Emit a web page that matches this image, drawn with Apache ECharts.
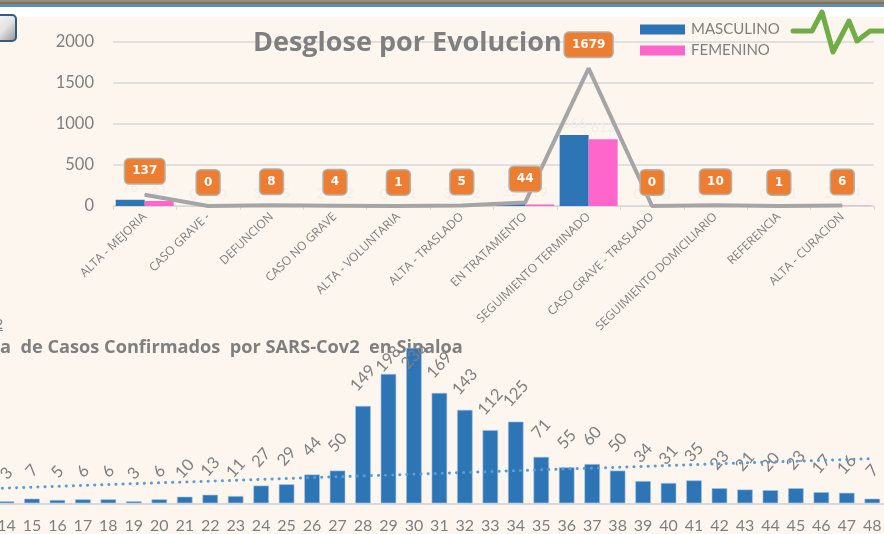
<!DOCTYPE html>
<html><head><meta charset="utf-8">
<style>html,body{margin:0;padding:0;background:#FDF6EF;overflow:hidden;width:884px;height:534px}#c{position:absolute;left:-40px;top:0;width:930px;height:534px}</style>
<script src="https://cdn.jsdelivr.net/npm/echarts@6/dist/echarts.min.js"></script>
</head><body><div id="c"></div>
<script>
const evolucion = ['ALTA - MEJORIA','CASO GRAVE -','DEFUNCION','CASO NO GRAVE','ALTA - VOLUNTARIA','ALTA - TRASLADO','EN TRATAMIENTO','SEGUIMIENTO TERMINADO','CASO GRAVE - TRASLADO','SEGUIMIENTO DOMICILIARIO','REFERENCIA','ALTA - CURACION'];
const masculino = [76,0,3,2,0,3,25,866,0,6,0,2];
const femenino  = [61,0,5,2,1,2,19,813,0,4,1,4];
const totales   = [137,0,8,4,1,5,44,1679,0,10,1,6];
const semanas = ['13','14','15','16','17','18','19','20','21','22','23','24','25','26','27','28','29','30','31','32','33','34','35','36','37','38','39','40','41','42','43','44','45','46','47','48'];
const casos   = [null,3,7,5,6,6,3,6,10,13,11,27,29,44,50,149,198,238,169,143,112,125,71,55,60,50,34,31,35,23,21,20,23,17,16,7];
const tendencia = [['13',22],['48',68.4]];
const distanciaEtiqueta = {'29':15,'30':-8};

const GREY='#7f7f7f', FONT='Lato', OX=40;
const chart = echarts.init(document.getElementById('c'),null,{renderer:'canvas'});
chart.setOption({
  animation:false,
  backgroundColor:'#FDF6EF',
  textStyle:{fontFamily:FONT},
  title:[
    {text:'Desglose por Evolucion',left:OX+248,top:25,z:8,textStyle:{fontFamily:'Open Sans',fontSize:27,fontWeight:'bold',color:GREY}},
    {text:'a  de Casos Confirmados  por SARS-Cov2  en Sinaloa',left:OX-5,top:334,z:1,textStyle:{fontFamily:'Open Sans',fontSize:18.2,fontWeight:'bold',color:GREY}}
  ],
  legend:{data:['MASCULINO','FEMENINO'],orient:'vertical',left:OX+635,top:17,itemWidth:45,itemHeight:10,itemGap:6,icon:'rect',
    textStyle:{fontFamily:FONT,fontSize:15,color:GREY,padding:[0,0,0,1]}},
  grid:[
    {left:OX+113,width:761,top:42,height:164,outerBoundsMode:'none'},
    {left:OX-31.7,right:5,top:340,height:163.25,outerBoundsMode:'none'}
  ],
  xAxis:[
    {type:'category',gridIndex:0,data:evolucion,
      axisLine:{lineStyle:{color:'#d9d9d9',width:1}},
      axisTick:{show:true,alignWithLabel:false,length:4,lineStyle:{color:'#d9d9d9'}},
      axisLabel:{interval:0,rotate:44,fontSize:12,color:GREY,margin:9,fontFamily:'Open Sans'}},
    {type:'category',gridIndex:1,data:semanas,
      axisLine:{lineStyle:{color:'#d9d9d9',width:2}},axisTick:{show:false},
      axisLabel:{interval:0,fontSize:16,color:GREY,margin:15,fontFamily:FONT}}
  ],
  yAxis:[
    {type:'value',gridIndex:0,min:0,max:2000,interval:500,
      axisLine:{show:false},axisTick:{show:false},
      splitLine:{lineStyle:{color:'#d9d9d9',width:1.5}},
      axisLabel:{fontSize:16.5,color:GREY,margin:19,fontFamily:FONT,formatter:v=>String(v)}},
    {type:'value',gridIndex:1,min:0,max:250,show:false,splitLine:{show:false}}
  ],
  series:[
    {name:'MASCULINO',type:'bar',xAxisIndex:0,yAxisIndex:0,data:masculino,barWidth:29,barGap:0,itemStyle:{color:'#2e75b6'},
      label:{show:true,position:'top',distance:5,fontSize:14,color:'#f2ede8'}},
    {name:'FEMENINO',type:'bar',xAxisIndex:0,yAxisIndex:0,data:femenino,barWidth:29,barGap:0,itemStyle:{color:'#ff66cc'},
      label:{show:true,position:'top',distance:5,fontSize:14,color:'#f2ede8'}},
    {name:'Total',type:'line',xAxisIndex:0,yAxisIndex:0,data:totales,symbol:'circle',symbolSize:1,showSymbol:true,showAllSymbol:true,z:4,
      itemStyle:{color:'#a5a5a5'},
      lineStyle:{color:'#a5a5a5',width:4},
      label:{show:true,position:'top',distance:11,fontFamily:'DejaVu Sans',fontSize:12,fontWeight:'bold',color:'#fff',
        backgroundColor:'#ed7d31',borderColor:'#b4b0aa',borderWidth:1.5,borderRadius:4,padding:[6,7]}},
    {name:'Casos',type:'bar',xAxisIndex:1,yAxisIndex:1,barWidth:15.5,z:3,
      data:casos.map((v,i)=>{
        const d=distanciaEtiqueta[semanas[i]];
        return d===undefined?v:{value:v,label:{distance:d}};
      }),
      itemStyle:{color:'#2e75b6',borderColor:'#9dc3e6',borderWidth:0.6},
      label:{show:true,position:'top',distance:28,rotate:48,align:'center',verticalAlign:'middle',fontSize:16.5,color:GREY,fontFamily:FONT}},
    {name:'Tendencia',type:'line',xAxisIndex:1,yAxisIndex:1,data:tendencia,symbol:'none',z:5,
      lineStyle:{color:'#5b9bd5',width:3,type:[0.1,7],cap:'round'}}
  ],
  graphic:[
    {type:'rect',z:-10,silent:true,shape:{x:0,y:0,width:930,height:17},style:{fill:'#ffffff'}},
    {type:'rect',z:-9,silent:true,shape:{x:0,y:0,width:930,height:2},style:{fill:'#8f8f86'}},
    {type:'rect',z:-9,silent:true,shape:{x:0,y:2,width:930,height:2},style:{fill:'#8a6f45'}},
    {type:'rect',z:-9,silent:true,shape:{x:0,y:4,width:930,height:3},style:{fill:'#5f8db8'}},
    {type:'rect',z:6,silent:true,shape:{x:OX-12,y:15,width:28,height:26,r:4},
      style:{stroke:'#35597f',lineWidth:2,fill:new echarts.graphic.LinearGradient(0,0,1,1,[{offset:0,color:'#ffffff'},{offset:0.55,color:'#e4e4e4'},{offset:1,color:'#8d8d8d'}])}},
    {type:'polyline',z:7,silent:true,shape:{points:[[793,31],[812,31],[822,12],[833,52],[849,21],[857,41],[870,31],[884,31]].map(p=>[p[0]+OX,p[1]])},
      style:{stroke:'#70ad47',lineWidth:5,fill:null,lineJoin:'round',lineCap:'round'}},
    {type:'text',z:7,silent:true,x:OX-5,y:317,style:{text:'2',fontFamily:FONT,fontSize:14,fill:GREY}},
    {type:'rect',z:7,silent:true,shape:{x:OX,y:330,width:3,height:1},style:{fill:GREY}}
  ]
});
</script></body></html>
